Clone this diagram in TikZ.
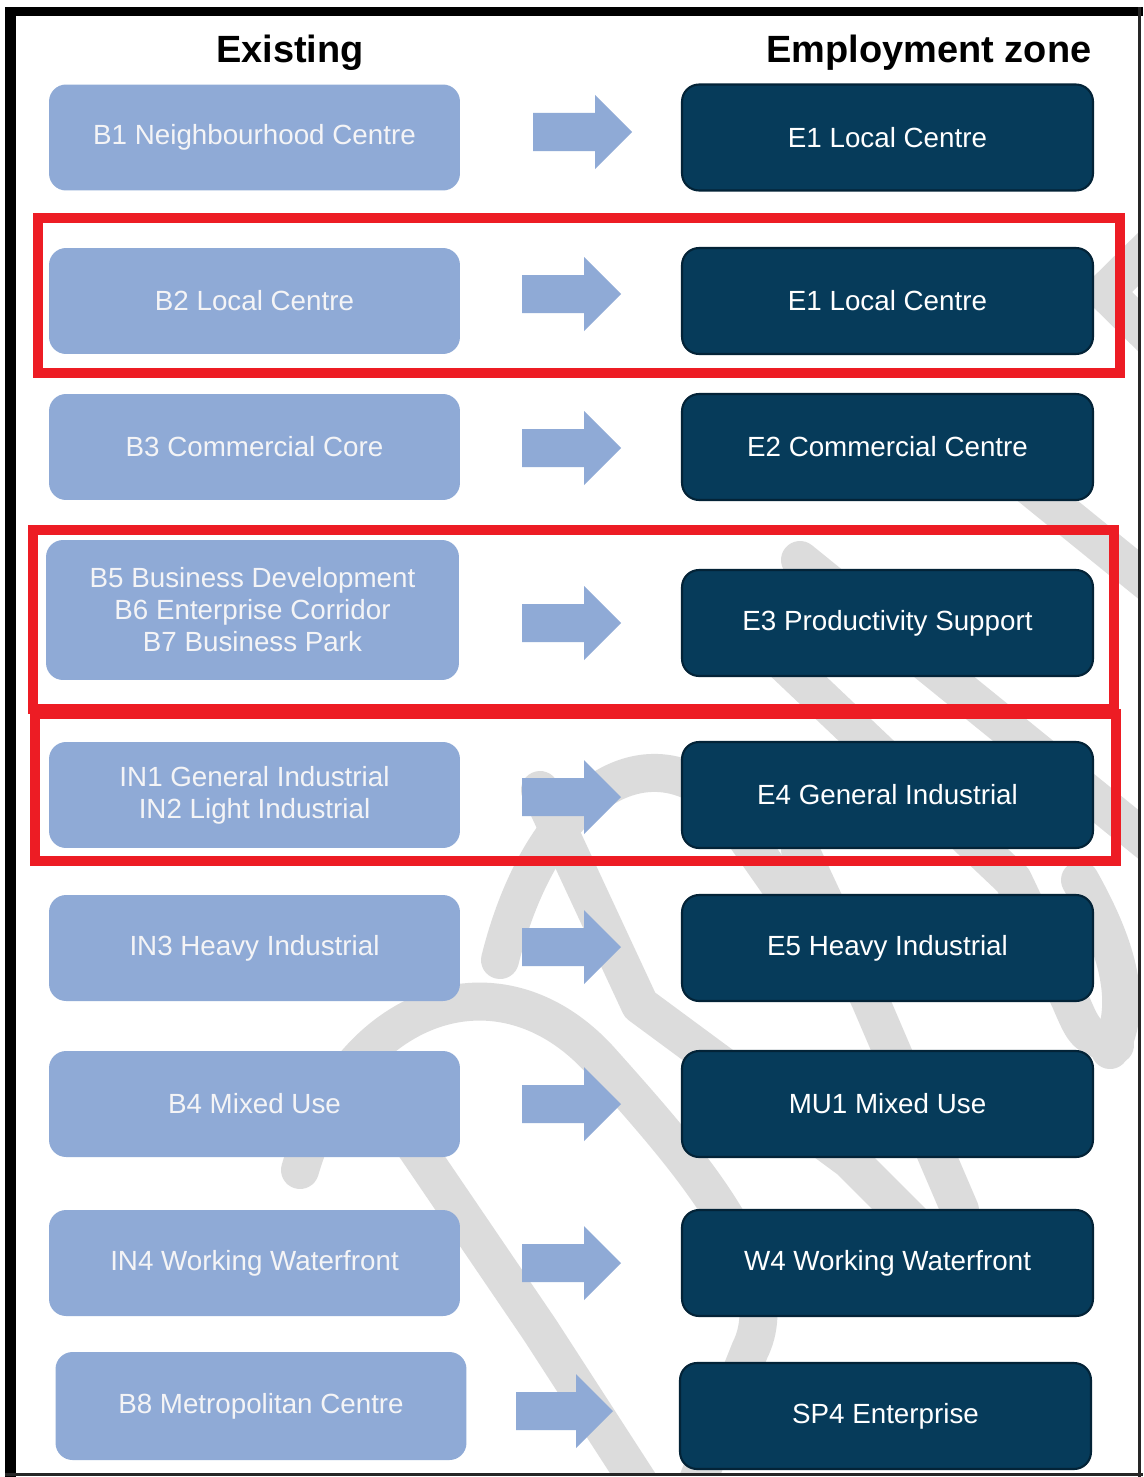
\documentclass[tikz,border=0pt]{standalone}
\usepackage{fontspec}
\setmainfont{Liberation Sans}
\definecolor{lightbox}{RGB}{143,170,214}
\definecolor{darkbox}{RGB}{6,59,90}
\definecolor{darkedge}{RGB}{3,35,55}
\definecolor{lighttext}{RGB}{244,244,246}
\definecolor{redline}{RGB}{237,28,36}
\definecolor{wmark}{RGB}{220,220,220}
\tikzset{
  boxtext/.style={font=\fontsize{15.8}{18.2}\selectfont, align=center},
  oldbox/.style={boxtext, fill=lightbox, text=lighttext, rounded corners=0.34cm,
    minimum width=8.22cm, minimum height=2.12cm, inner sep=0pt},
  newbox/.style={boxtext, fill=darkbox, draw=darkedge, line width=1.2pt, text=white,
    rounded corners=0.34cm, minimum width=8.22cm, minimum height=2.12cm, inner sep=0pt},
  hdr/.style={font=\fontsize{21.6}{24}\selectfont\bfseries, text=black, inner sep=0pt},
  redbox/.style={draw=redline, line width=0.2cm},
  wm/.style={draw=wmark, line width=0.76cm, line join=round, line cap=round},
  barrow/.pic={\fill[lightbox] (0,-19) -- (62,-19) -- (62,-37) -- (99,0) -- (62,37) -- (62,19) -- (0,19) -- cycle;},
  barrowshort/.pic={\fill[lightbox] (0,-19) -- (60,-19) -- (60,-37) -- (97,0) -- (60,37) -- (60,19) -- (0,19) -- cycle;}
}
\begin{document}
\begin{tikzpicture}[x=0.02cm,y=-0.02cm]
\useasboundingbox (0,0) rectangle (1143,1477);
\fill[white] (0,0) rectangle (1143,1477);
% watermark
\begin{scope}
\clip (16,16) rectangle (1138,1473);
\draw[wm] (1170,228) -- (1105,292) -- (1170,356);
\draw[wm] (985,450) -- (1170,600);
\draw[wm] (800,560) -- (1170,860);
\draw[wm] (760,640) -- (1013,880) -- (1070,1000) .. controls (1085,1035) .. (1115,1045);
\draw[wm] (1080,880) .. controls (1125,960) and (1130,1010) .. (1110,1050);
\draw[wm] (800,850) -- (870,1000) -- (960,1210);
\draw[wm] (500,960) .. controls (540,800) and (640,730) .. (720,800) -- (790,900);
\draw[wm] (540,790) -- (640,1005) -- (850,1160) -- (930,1240);
\draw[wm] (300,1170) .. controls (350,1000) and (500,950) .. (600,1060) .. controls (680,1150) and (790,1270) .. (750,1350) -- (690,1500);
\draw[wm] (370,1080) -- (540,1330) -- (650,1500);
\end{scope}
% frame
\fill[black] (5,7) rectangle (16,1477);
\fill[black] (5,7) rectangle (1143,16);
\fill[black!85] (1138,7) rectangle (1141,1477);
\fill[black!85] (5,1473) rectangle (1143,1476);
% headers
\node[hdr] (h1) at (290,53) {Existing};
\node[hdr] (h2) at (929,53) {Employment zone};
% left boxes
\node[oldbox] (l1) at (254.5,137.5) {B1 Neighbourhood Centre};
\node[oldbox] (l2) at (254.5,301) {B2 Local Centre};
\node[oldbox] (l3) at (254.5,447) {B3 Commercial Core};
\node[oldbox, minimum width=8.26cm, minimum height=2.8cm] (l4) at (252.5,610) {B5 Business Development\\B6 Enterprise Corridor\\B7 Business Park};
\node[oldbox] (l5) at (254.5,795) {IN1 General Industrial\\IN2 Light Industrial};
\node[oldbox] (l6) at (254.5,948) {IN3 Heavy Industrial};
\node[oldbox] (l7) at (254.5,1104) {B4 Mixed Use};
\node[oldbox] (l8) at (254.5,1263) {IN4 Working Waterfront};
\node[oldbox, minimum height=2.16cm] (l9) at (261,1406) {B8 Metropolitan Centre};
% right boxes
\node[newbox] (r1) at (887.5,137.5) {E1 Local Centre};
\node[newbox] (r2) at (887.5,301) {E1 Local Centre};
\node[newbox] (r3) at (887.5,447) {E2 Commercial Centre};
\node[newbox] (r4) at (887.5,623) {E3 Productivity Support};
\node[newbox] (r5) at (887.5,795) {E4 General Industrial};
\node[newbox] (r6) at (887.5,948) {E5 Heavy Industrial};
\node[newbox] (r7) at (887.5,1104) {MU1 Mixed Use};
\node[newbox] (r8) at (887.5,1263) {W4 Working Waterfront};
\node[newbox] (r9) at (885.5,1416) {SP4 Enterprise};
% block arrows
\pic (a1) at (533,132) {barrow};
\pic (a2) at (522,294) {barrow};
\pic (a3) at (522,448) {barrow};
\pic (a4) at (522,623) {barrow};
\pic (a5) at (522,797) {barrow};
\pic (a6) at (522,947) {barrow};
\pic (a7) at (522,1104) {barrow};
\pic (a8) at (522,1263) {barrow};
\pic (a9) at (516,1411) {barrowshort};
% red highlight frames
\draw[redbox] (38,218) rectangle (1120,373);
\draw[redbox] (33,530) rectangle (1114,709);
\draw[redbox] (35,714) rectangle (1116,861);
\end{tikzpicture}
\end{document}
